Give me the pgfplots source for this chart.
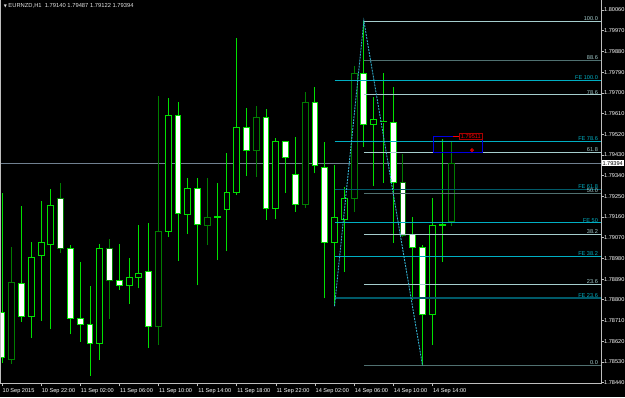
\documentclass[border=0pt]{standalone}
\usepackage{fontspec}
\setmainfont{Liberation Sans}
\newfontfamily\dv{DejaVu Sans}
\usepackage{pgfplots}
\pgfplotsset{compat=1.18}
\definecolor{lm}{RGB}{0,225,0}
\definecolor{dg}{RGB}{0,125,0}
\definecolor{fibl}{RGB}{165,205,205}
\definecolor{fibd}{RGB}{80,112,112}
\definecolor{fel}{RGB}{0,175,195}
\definecolor{fed}{RGB}{0,90,105}
\definecolor{zz}{RGB}{50,175,205}
\definecolor{pl}{RGB}{112,128,144}
\definecolor{axc}{RGB}{190,190,190}
\definecolor{rbox}{RGB}{0,0,225}
% candle: index, open, high, low, close, line colour
\newcommand\cdl[6]{%
  \pgfmathsetmacro\xl{#1-0.3}\pgfmathsetmacro\xr{#1+0.3}%
  \ifdim#5pt<#2pt\def\cf{white}\else\def\cf{black}\fi
  \edef\tmp{\noexpand\addplot[forget plot,draw=#6,line width=1pt] coordinates {(#1,#4) (#1,#3)};%
    \noexpand\addplot[forget plot,draw=#6,fill=\cf,line width=1pt] coordinates {(\xl,#2) (\xr,#2) (\xr,#5) (\xl,#5)} --cycle;}%
  \tmp}
\newcommand\lfont{\fontsize{5.6}{6}\selectfont}
\begin{document}
\begin{tikzpicture}
\fill[black] (0pt,-13pt) rectangle (625pt,384pt);
\begin{axis}[at={(0pt,0pt)}, anchor=south west,
  width=601pt, height=384pt, scale only axis,
  xmin=-0.2045, xmax=61.247, ymin=1.784339, ymax=1.801035,
  axis line style={draw=none},
  tick align=outside, major tick length=2.5pt,
  tick style={axc, line width=0.6pt},
  xtick={0,4,...,44},
  xticklabels={10 Sep 2015,10 Sep 22:00,11 Sep 02:00,11 Sep 06:00,11 Sep 10:00,11 Sep 14:00,11 Sep 18:00,11 Sep 22:00,14 Sep 02:00,14 Sep 06:00,14 Sep 10:00,14 Sep 14:00},
  xtick pos=bottom,
  ytick={1.7844,1.7853,1.7862,1.7871,1.788,1.7889,1.7898,1.7907,1.7916,1.7925,1.7934,1.7943,1.7952,1.7961,1.797,1.7979,1.7988,1.7997,1.8006},
  ytick pos=right, yticklabel pos=right,
  scaled y ticks=false,
  yticklabel style={/pgf/number format/fixed, /pgf/number format/fixed zerofill, /pgf/number format/precision=5, /pgf/number format/1000 sep={}},
  /pgf/number format/assume math mode=true,
  every tick label/.append style={font=\lfont, text=white},
  xticklabel style={anchor=north west, inner sep=0pt, xshift=0.5pt, yshift=-2pt},
  yticklabel style={anchor=west, inner sep=0pt, xshift=0.5pt},
]
% current price line
\addplot[forget plot, pl, line width=1pt] coordinates {(-1,1.79394) (62,1.79394)};
% candles
\cdl{0}{1.78744}{1.79266}{1.78527}{1.78548}{lm}
\cdl{1}{1.78541}{1.79031}{1.78521}{1.78876}{dg}
\cdl{2}{1.78870}{1.79208}{1.78705}{1.78727}{lm}
\cdl{3}{1.78727}{1.79050}{1.78633}{1.78985}{lm}
\cdl{4}{1.78994}{1.79230}{1.78709}{1.79048}{lm}
\cdl{5}{1.79041}{1.79282}{1.78672}{1.79211}{lm}
\cdl{6}{1.79241}{1.79307}{1.79005}{1.79021}{dg}
\cdl{7}{1.79024}{1.79038}{1.78650}{1.78718}{lm}
\cdl{8}{1.78718}{1.78963}{1.78618}{1.78694}{lm}
\cdl{9}{1.78694}{1.78860}{1.78470}{1.78612}{lm}
\cdl{10}{1.78611}{1.79043}{1.78538}{1.79021}{lm}
\cdl{11}{1.79021}{1.79064}{1.78718}{1.78883}{dg}
\cdl{12}{1.78883}{1.79043}{1.78843}{1.78861}{lm}
\cdl{13}{1.78861}{1.78980}{1.78782}{1.78898}{lm}
\cdl{14}{1.78898}{1.79125}{1.78850}{1.78915}{lm}
\cdl{15}{1.78925}{1.79133}{1.78592}{1.78686}{lm}
\cdl{16}{1.78686}{1.79687}{1.78603}{1.79096}{dg}
\cdl{17}{1.79096}{1.79676}{1.79072}{1.79603}{lm}
\cdl{18}{1.79603}{1.79661}{1.78970}{1.79176}{lm}
\cdl{19}{1.79173}{1.79328}{1.79085}{1.79283}{lm}
\cdl{20}{1.79283}{1.79331}{1.78863}{1.79128}{lm}
\cdl{21}{1.79124}{1.79328}{1.79038}{1.79159}{dg}
\cdl{22}{1.79159}{1.79307}{1.78973}{1.79161}{lm}
\cdl{23}{1.79192}{1.79440}{1.79012}{1.79267}{lm}
\cdl{24}{1.79267}{1.79937}{1.79256}{1.79550}{lm}
\cdl{25}{1.79550}{1.79635}{1.79338}{1.79448}{lm}
\cdl{26}{1.79450}{1.79643}{1.79335}{1.79592}{dg}
\cdl{27}{1.79592}{1.79628}{1.79147}{1.79198}{lm}
\cdl{28}{1.79198}{1.79502}{1.79151}{1.79487}{lm}
\cdl{29}{1.79487}{1.79490}{1.79266}{1.79420}{lm}
\cdl{30}{1.79344}{1.79509}{1.79183}{1.79213}{lm}
\cdl{31}{1.79213}{1.79705}{1.79200}{1.79659}{dg}
\cdl{32}{1.79659}{1.79726}{1.79350}{1.79385}{lm}
\cdl{33}{1.79377}{1.79487}{1.78806}{1.79048}{lm}
\cdl{34}{1.79048}{1.79386}{1.78772}{1.79159}{lm}
\cdl{35}{1.79150}{1.79289}{1.78922}{1.79241}{lm}
\cdl{36}{1.79241}{1.79818}{1.79183}{1.79785}{dg}
\cdl{37}{1.79785}{1.80012}{1.79466}{1.79564}{lm}
\cdl{38}{1.79564}{1.79680}{1.79296}{1.79585}{lm}
\cdl{39}{1.79574}{1.79785}{1.79309}{1.79575}{lm}
\cdl{40}{1.79572}{1.79726}{1.79048}{1.79311}{lm}
\cdl{41}{1.79311}{1.79434}{1.79074}{1.79079}{dg}
\cdl{42}{1.79085}{1.79161}{1.78799}{1.79027}{lm}
\cdl{43}{1.79027}{1.79038}{1.78514}{1.78738}{lm}
\cdl{44}{1.78738}{1.79244}{1.78603}{1.79125}{lm}
\cdl{45}{1.79125}{1.79499}{1.78966}{1.79127}{lm}
\cdl{46}{1.79140}{1.79487}{1.79122}{1.79394}{dg}
% Fibonacci expansion levels
\addplot[forget plot, fel, line width=1pt] coordinates {(34,1.79754) (62,1.79754)};
\addplot[forget plot, fel, line width=1pt] coordinates {(34,1.79489) (62,1.79489)};
\addplot[forget plot, fed, line width=1.6pt] coordinates {(34,1.79280) (62,1.79280)};
\addplot[forget plot, fel, line width=1pt] coordinates {(34,1.79134) (62,1.79134)};
\addplot[forget plot, fel, line width=1pt] coordinates {(34,1.78988) (62,1.78988)};
\addplot[forget plot, fed, line width=1.6pt] coordinates {(34,1.78807) (62,1.78807)};
% Fibonacci retracement levels
\addplot[forget plot, fibl, line width=1pt] coordinates {(37,1.80012) (62,1.80012)};
\addplot[forget plot, fibd, line width=1.6pt] coordinates {(37,1.79841) (62,1.79841)};
\addplot[forget plot, fibl, line width=1pt] coordinates {(37,1.79691) (62,1.79691)};
\addplot[forget plot, fibl, line width=1pt] coordinates {(37,1.79440) (62,1.79440)};
\addplot[forget plot, fibd, line width=1.6pt] coordinates {(37,1.79263) (62,1.79263)};
\addplot[forget plot, fibl, line width=1pt] coordinates {(37,1.79086) (62,1.79086)};
\addplot[forget plot, fibl, line width=1pt] coordinates {(37,1.78868) (62,1.78868)};
\addplot[forget plot, fibd, line width=1.6pt] coordinates {(37,1.78514) (62,1.78514)};
% zigzag
\addplot[forget plot, zz, line width=0.9pt, dash pattern=on 2pt off 1pt] coordinates {(34,1.78772) (37,1.80012) (43,1.78514)};
% rectangle and alert
\addplot[forget plot, rbox, line width=1pt] coordinates {(44.1,1.79511) (49.15,1.79511) (49.15,1.79440) (44.1,1.79440)} --cycle;
\addplot[forget plot, red, line width=0.8pt] coordinates {(46.1,1.79511) (46.75,1.79511)};
\addplot[forget plot, only marks, mark=o, mark size=1.4pt, red, line width=0.8pt] coordinates {(48.06,1.79451)};
\node[draw={rgb,255:red,170;green,0;blue,0}, fill=black, text=red, inner xsep=1.5pt, inner ysep=0.8pt, font=\lfont, anchor=west] at (axis cs:46.75,1.79511) {1.79511};
% level labels
\tikzset{lv/.style={anchor=south east, inner sep=0.4pt, font=\lfont}}
\node[lv, text=fibl] at (axis cs:60.99,1.80012) {100.0};
\node[lv, text=fibl] at (axis cs:60.99,1.79841) {88.6};
\node[lv, text=fel]  at (axis cs:60.99,1.79754) {FE 100.0};
\node[lv, text=fibl] at (axis cs:60.99,1.79691) {78.6};
\node[lv, text=fel]  at (axis cs:60.99,1.79489) {FE 78.6};
\node[lv, text=fibl] at (axis cs:60.99,1.79440) {61.8};
\node[lv, text=fel]  at (axis cs:60.99,1.79280) {FE 61.8};
\node[lv, text=fibl] at (axis cs:60.99,1.79263) {50.0};
\node[lv, text=fel]  at (axis cs:60.99,1.79134) {FE 50};
\node[lv, text=fibl] at (axis cs:60.99,1.79086) {38.2};
\node[lv, text=fel]  at (axis cs:60.99,1.78988) {FE 38.2};
\node[lv, text=fibl] at (axis cs:60.99,1.78868) {23.6};
\node[lv, text=fel]  at (axis cs:60.99,1.78807) {FE 23.6};
\node[lv, text=fibl] at (axis cs:60.99,1.78514) {0.0};
% title
\node[anchor=west, inner sep=0pt, text=white!90!black, font=\fontsize{5.8}{6}\selectfont] at (rel axis cs:0.006,0.984) {{\dv\fontsize{4}{5}\selectfont\char"25BC}\ EURNZD,H1\ \ 1.79140 1.79487 1.79122 1.79394};
\coordinate (plab) at (axis cs:61.247,1.79394);
\end{axis}
\draw[axc, line width=1pt] (0.5pt,0pt) -- (0.5pt,384pt);
\draw[axc, line width=1pt] (0pt,0pt) -- (601.5pt,0pt);
\draw[axc, line width=1pt] (601pt,0pt) -- (601pt,384pt);
\node[anchor=west, fill=white, text=black, inner xsep=1pt, inner ysep=0.7pt, font=\lfont] at ([xshift=0.3pt]plab) {1.79394};
\pgfresetboundingbox
\useasboundingbox (0pt,-13pt) rectangle (625pt,384pt);
\end{tikzpicture}
\end{document}
